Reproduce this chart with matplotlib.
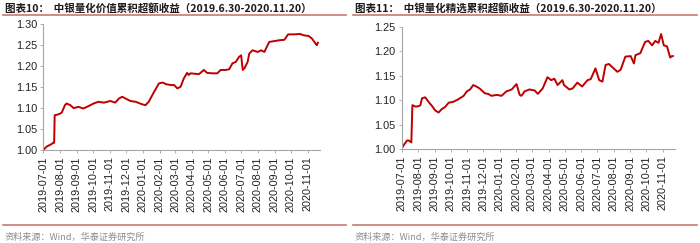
import matplotlib
matplotlib.use("Agg")
import matplotlib.pyplot as plt
import pandas as pd
from matplotlib.lines import Line2D

# ---------------- data ----------------
left_dates = ["2019-07-01", "2019-07-07", "2019-07-16", "2019-07-19", "2019-07-21", "2019-07-22",
              "2019-07-29", "2019-08-04", "2019-08-10", "2019-08-13", "2019-08-20", "2019-08-26",
              "2019-09-04", "2019-09-13", "2019-09-23", "2019-10-02", "2019-10-11", "2019-10-21",
              "2019-11-02", "2019-11-11", "2019-11-18", "2019-11-24", "2019-11-30", "2019-12-09",
              "2019-12-19", "2019-12-31", "2020-01-06", "2020-01-12", "2020-01-22", "2020-01-31",
              "2020-02-07", "2020-02-13", "2020-02-22", "2020-02-28", "2020-03-05", "2020-03-11",
              "2020-03-17", "2020-03-23", "2020-03-26", "2020-03-29", "2020-04-14", "2020-04-23",
              "2020-04-29", "2020-05-09", "2020-05-18", "2020-05-24", "2020-06-03", "2020-06-09",
              "2020-06-15", "2020-06-21", "2020-06-27", "2020-07-01", "2020-07-04", "2020-07-07",
              "2020-07-13", "2020-07-16", "2020-07-22", "2020-08-01", "2020-08-07", "2020-08-13",
              "2020-08-22", "2020-09-01", "2020-09-10", "2020-09-19", "2020-09-26", "2020-10-08",
              "2020-10-18", "2020-10-24", "2020-11-03", "2020-11-09", "2020-11-18", "2020-11-20"]
left_values = [1.000, 1.008, 1.014, 1.017, 1.017, 1.083,
               1.085, 1.089, 1.107, 1.111, 1.107, 1.100,
               1.103, 1.099, 1.105, 1.111, 1.115, 1.113,
               1.117, 1.113, 1.123, 1.127, 1.123, 1.117,
               1.115, 1.109, 1.107, 1.115, 1.139, 1.159,
               1.161, 1.157, 1.155, 1.155, 1.147, 1.151,
               1.171, 1.184, 1.179, 1.183, 1.181, 1.191,
               1.184, 1.183, 1.183, 1.191, 1.191, 1.193,
               1.207, 1.210, 1.222, 1.226, 1.191, 1.195,
               1.210, 1.230, 1.238, 1.234, 1.238, 1.234,
               1.258, 1.260, 1.262, 1.263, 1.276, 1.276,
               1.277, 1.274, 1.272, 1.266, 1.250, 1.256]

right_dates = ["2019-07-01", "2019-07-05", "2019-07-11", "2019-07-14", "2019-07-19", "2019-07-21",
               "2019-07-27", "2019-08-02", "2019-08-05", "2019-08-08", "2019-08-14", "2019-08-20",
               "2019-08-27", "2019-09-02", "2019-09-08", "2019-09-14", "2019-09-20", "2019-09-27",
               "2019-10-06", "2019-10-15", "2019-10-25", "2019-10-31", "2019-11-06", "2019-11-12",
               "2019-11-18", "2019-11-24", "2019-12-04", "2019-12-10", "2019-12-16", "2019-12-26",
               "2020-01-04", "2020-01-13", "2020-01-23", "2020-02-01", "2020-02-07", "2020-02-10",
               "2020-02-13", "2020-02-16", "2020-02-25", "2020-03-06", "2020-03-12", "2020-03-21",
               "2020-03-30", "2020-04-06", "2020-04-12", "2020-04-18", "2020-04-27", "2020-04-30",
               "2020-05-10", "2020-05-16", "2020-05-25", "2020-06-03", "2020-06-13", "2020-06-19",
               "2020-06-28", "2020-07-05", "2020-07-11", "2020-07-17", "2020-07-23", "2020-08-01",
               "2020-08-08", "2020-08-14", "2020-08-23", "2020-09-02", "2020-09-08", "2020-09-11",
               "2020-09-20", "2020-09-29", "2020-10-05", "2020-10-12", "2020-10-18", "2020-10-24",
               "2020-10-29", "2020-11-03", "2020-11-09", "2020-11-15", "2020-11-18", "2020-11-20"]
right_values = [1.002, 1.009, 1.018, 1.018, 1.014, 1.090,
                1.087, 1.088, 1.090, 1.104, 1.106, 1.097,
                1.088, 1.079, 1.075, 1.082, 1.086, 1.095,
                1.097, 1.102, 1.109, 1.118, 1.122, 1.131,
                1.128, 1.124, 1.114, 1.113, 1.109, 1.111,
                1.109, 1.118, 1.122, 1.133, 1.111, 1.109,
                1.113, 1.118, 1.122, 1.120, 1.113, 1.124,
                1.147, 1.141, 1.144, 1.131, 1.141, 1.131,
                1.122, 1.124, 1.136, 1.128, 1.141, 1.143,
                1.165, 1.141, 1.138, 1.172, 1.174, 1.165,
                1.158, 1.162, 1.189, 1.190, 1.175, 1.192,
                1.196, 1.219, 1.221, 1.212, 1.221, 1.217,
                1.235, 1.212, 1.210, 1.187, 1.190, 1.190]

tick_labels = ["2019-07-01", "2019-08-01", "2019-09-01", "2019-10-01", "2019-11-01", "2019-12-01",
               "2020-01-01", "2020-02-01", "2020-03-01", "2020-04-01", "2020-05-01", "2020-06-01",
               "2020-07-01", "2020-08-01", "2020-09-01", "2020-10-01", "2020-11-01"]

left_title = "图表10：  中银量化价值累积超额收益（2019.6.30-2020.11.20）"
right_title = "图表11：  中银量化精选累积超额收益（2019.6.30-2020.11.20）"
source_text = "资料来源：Wind，华泰证券研究所"
left_yticks = [1.00, 1.05, 1.10, 1.15, 1.20, 1.25, 1.30]
right_yticks = [1.00, 1.05, 1.10, 1.15, 1.20, 1.25]

# ---------------- style ----------------
plt.rcParams['font.family'] = ['Liberation Sans', 'Noto Sans CJK SC', 'DejaVu Sans']
LINE = '#C00000'
SPINE = '#A6A6A6'
RULE = '#C87A70'

fig = plt.figure(figsize=(7.0, 2.43), dpi=100)

def setup(ax, dates, values, yticks, ylim):
    d = pd.to_datetime(dates)
    ax.plot(d, values, color=LINE, lw=1.4, solid_joinstyle='round')
    ax.set_ylim(*ylim)
    ax.set_yticks(yticks)
    ax.set_yticklabels([f"{v:.2f}" for v in yticks], fontsize=7.8, color='#222222')
    ticks = pd.to_datetime(tick_labels)
    ax.set_xticks(ticks)
    ax.set_xticklabels(tick_labels, rotation=90, fontsize=7.8, color='#222222')
    ax.set_xlim(pd.Timestamp("2019-07-01"), pd.Timestamp("2020-11-24"))
    for s in ['top', 'right']:
        ax.spines[s].set_visible(False)
    for s in ['left', 'bottom']:
        ax.spines[s].set_color(SPINE)
        ax.spines[s].set_linewidth(0.8)
    ax.tick_params(axis='both', direction='out', length=2.5, width=0.6, color=SPINE, pad=2)

ax1 = fig.add_axes([0.0619, 0.3827, 0.3953, 0.5173])
setup(ax1, left_dates, left_values, left_yticks, (1.0, 1.30))
ax2 = fig.add_axes([0.5739, 0.3856, 0.3904, 0.5045])
setup(ax2, right_dates, right_values, right_yticks, (1.0, 1.25))

fig.text(5/700, 1 - 8/243, left_title, fontsize=7.6, fontweight='bold', color='#1a1a1a',
         va='center', ha='left', family=['Noto Sans CJK SC'])
fig.text(355/700, 1 - 8/243, right_title, fontsize=7.6, fontweight='bold', color='#1a1a1a',
         va='center', ha='left', family=['Noto Sans CJK SC'])
fig.text(5/700, 1 - 237/243, source_text, fontsize=6.6, color='#8c8c8c',
         va='center', ha='left', family=['Noto Sans CJK SC'])
fig.text(355/700, 1 - 237/243, source_text, fontsize=6.6, color='#8c8c8c',
         va='center', ha='left', family=['Noto Sans CJK SC'])

for x0, x1 in [(3, 346), (353, 697)]:
    for yy in [15.5, 225]:
        fig.add_artist(Line2D([x0/700, x1/700], [1 - yy/243, 1 - yy/243],
                              color=RULE, lw=1.2, transform=fig.transFigure))

fig.savefig("out.png", dpi=100)
